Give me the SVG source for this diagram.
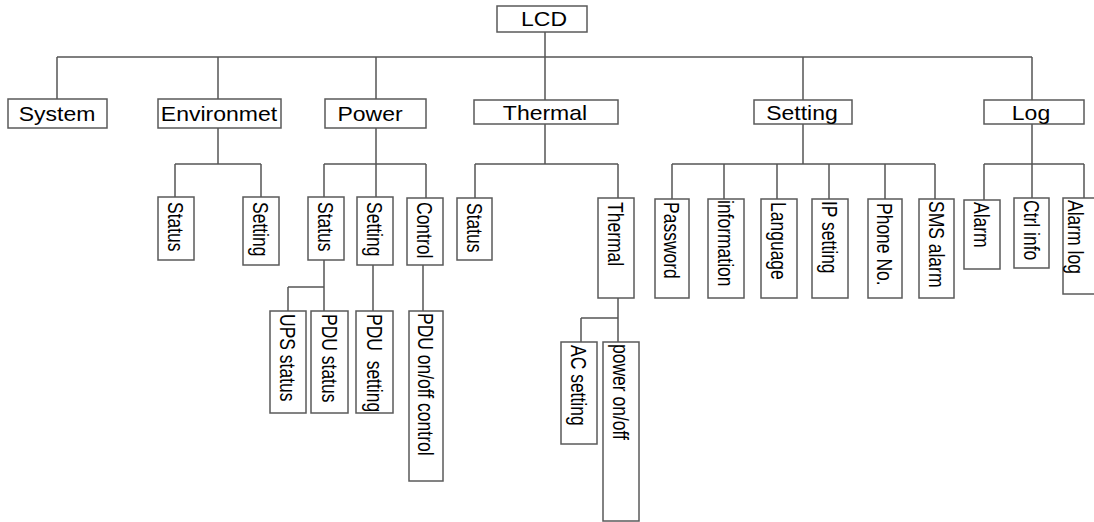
<svg xmlns="http://www.w3.org/2000/svg" width="1094" height="522" viewBox="0 0 1094 522">
<style>
.box{fill:#fff;stroke:#5a5a5a;stroke-width:1.5}
.ln{fill:none;stroke:#555;stroke-width:1.5}
.h{font-family:"Liberation Sans",Arial,sans-serif;font-size:20px;fill:#000;text-anchor:middle}
.v{font-family:"Liberation Sans",Arial,sans-serif;font-size:17.5px;fill:#000}
</style>
<rect width="1094" height="522" fill="#fff"/>
<g id="connectors">
<path class="ln" d="M545 32V100 M57 57H1032 M57 57V99 M218 57V99 M376 57V99 M803 57V100 M1032 57V100"/>
<path class="ln" d="M218 128V164 M175 164H261 M175 164V197 M261 164V197"/>
<path class="ln" d="M376 128V197 M324 164H426 M324 164V197 M426 164V198"/>
<path class="ln" d="M324 260V287 M288 287H324 M288 287V311 M324 287V311 M373 265V311 M423 265V311"/>
<path class="ln" d="M545 124V164 M475 164H618 M475 164V198 M618 164V198"/>
<path class="ln" d="M618 298V318 M581 318H618 M581 318V342 M618 318V342"/>
<path class="ln" d="M803 124V164 M672 164H935 M672 164V199 M724 164V199 M777 164V199 M829 164V199 M885 164V199 M935 164V199"/>
<path class="ln" d="M1032 124V198 M984 164H1084 M984 164V200 M1084 164V198"/>
</g>
<g id="lcd"><rect class="box" x="497" y="6" width="90" height="26"/><text class="h" transform="translate(544 26) scale(1.15 1)">LCD</text></g>
<g id="system"><rect class="box" x="8" y="99" width="99" height="29"/><text class="h" transform="translate(57 121) scale(1.15 1)">System</text></g>
<g id="environmet"><rect class="box" x="158" y="99" width="123" height="29"/><text class="h" transform="translate(219 121) scale(1.15 1)">Environmet</text></g>
<g id="power"><rect class="box" x="325" y="99" width="101" height="29"/><text class="h" transform="translate(370 121) scale(1.15 1)">Power</text></g>
<g id="thermal"><rect class="box" x="474" y="100" width="144" height="24"/><text class="h" transform="translate(545 120) scale(1.15 1)">Thermal</text></g>
<g id="setting"><rect class="box" x="754" y="100" width="98" height="24"/><text class="h" transform="translate(802 120) scale(1.15 1)">Setting</text></g>
<g id="log"><rect class="box" x="984" y="100" width="100" height="24"/><text class="h" transform="translate(1031 120) scale(1.15 1)">Log</text></g>

<g id="env-status"><rect class="box" x="158" y="197" width="36" height="63"/><text class="v" transform="translate(168 202) rotate(90) scale(1 1.3)">Status</text></g>
<g id="env-setting"><rect class="box" x="243" y="197" width="36" height="68"/><text class="v" transform="translate(253 202) rotate(90) scale(1 1.3)">Setting</text></g>
<g id="pw-status"><rect class="box" x="308" y="197" width="36" height="63"/><text class="v" transform="translate(318 202) rotate(90) scale(1 1.3)">Status</text></g>
<g id="pw-setting"><rect class="box" x="357" y="197" width="36" height="68"/><text class="v" transform="translate(367 202) rotate(90) scale(1 1.3)">Setting</text></g>
<g id="pw-control"><rect class="box" x="407" y="198" width="36" height="67"/><text class="v" transform="translate(417 202) rotate(90) scale(1 1.3)">Control</text></g>
<g id="ups-status"><rect class="box" x="270" y="311" width="36" height="102"/><text class="v" transform="translate(280 314) rotate(90) scale(1 1.3)">UPS status</text></g>
<g id="pdu-status"><rect class="box" x="311" y="311" width="37" height="102"/><text class="v" transform="translate(321.5 314) rotate(90) scale(1 1.3)">PDU status</text></g>
<g id="pdu-setting"><rect class="box" x="356" y="311" width="37" height="102"/><text class="v" xml:space="preserve" transform="translate(366.5 314) rotate(90) scale(1 1.3)">PDU  setting</text></g>
<g id="pdu-onoff"><rect class="box" x="409" y="311" width="34" height="170"/><text class="v" transform="translate(418 313) rotate(90) scale(1 1.3)">PDU on/off control</text></g>
<g id="th-status"><rect class="box" x="457" y="198" width="35" height="62"/><text class="v" transform="translate(466.5 203) rotate(90) scale(1 1.3)">Status</text></g>
<g id="th-thermal"><rect class="box" x="598" y="198" width="36" height="100"/><text class="v" transform="translate(608 202) rotate(90) scale(1 1.3)">Thermal</text></g>
<g id="ac-setting"><rect class="box" x="561" y="342" width="36" height="102"/><text class="v" transform="translate(571 345) rotate(90) scale(1 1.3)">AC setting</text></g>
<g id="power-onoff"><rect class="box" x="603" y="342" width="36" height="179"/><text class="v" transform="translate(613 344) rotate(90) scale(1 1.3)">power on/off</text></g>
<g id="password"><rect class="box" x="655" y="199" width="34" height="99"/><text class="v" transform="translate(664 202) rotate(90) scale(1 1.3)">Password</text></g>
<g id="information"><rect class="box" x="708" y="199" width="36" height="99"/><text class="v" transform="translate(718 200) rotate(90) scale(1 1.3)">information</text></g>
<g id="language"><rect class="box" x="761" y="199" width="36" height="99"/><text class="v" transform="translate(771 202) rotate(90) scale(1 1.3)">Language</text></g>
<g id="ip-setting"><rect class="box" x="812" y="199" width="36" height="99"/><text class="v" transform="translate(822 201) rotate(90) scale(1 1.3)">IP setting</text></g>
<g id="phone-no"><rect class="box" x="868" y="199" width="34" height="99"/><text class="v" transform="translate(877 203) rotate(90) scale(1 1.3)">Phone No.</text></g>
<g id="sms-alarm"><rect class="box" x="919" y="199" width="35" height="99"/><text class="v" transform="translate(928.5 201) rotate(90) scale(1 1.3)">SMS alarm</text></g>
<g id="alarm"><rect class="box" x="964" y="200" width="36" height="69"/><text class="v" transform="translate(974 202) rotate(90) scale(1 1.3)">Alarm</text></g>
<g id="ctrl-info"><rect class="box" x="1014" y="198" width="35" height="70"/><text class="v" transform="translate(1023.5 200) rotate(90) scale(1 1.3)">Ctrl info</text></g>
<g id="alarm-log"><rect class="box" x="1063" y="198" width="36" height="96"/><text class="v" transform="translate(1068 200) rotate(90) scale(1 1.3)">Alarm log</text></g>
</svg>
